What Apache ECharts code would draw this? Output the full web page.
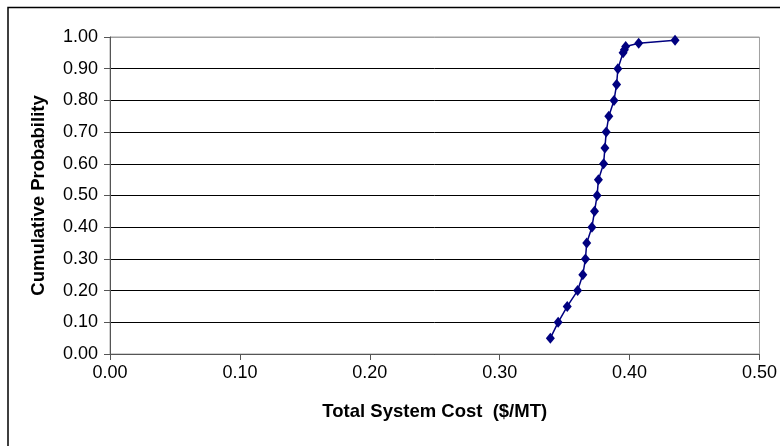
<!DOCTYPE html>
<html>
<head>
<meta charset="utf-8">
<script src="https://cdn.jsdelivr.net/npm/echarts@6/dist/echarts.min.js"></script>
<style>html,body{margin:0;padding:0;background:#fff}#c{width:780px;height:446px}</style>
</head>
<body>
<div id="c"></div>
<script>
var costValues = [0.339,0.345,0.352,0.360,0.364,0.366,0.367,0.371,0.373,0.375,0.376,0.380,0.381,0.382,0.384,0.388,0.390,0.391,0.395,0.396,0.397,0.407,0.435];
var probValues = [0.05,0.10,0.15,0.20,0.25,0.30,0.35,0.40,0.45,0.50,0.55,0.60,0.65,0.70,0.75,0.80,0.85,0.90,0.95,0.96,0.97,0.98,0.99];
var xTitle = 'Total System Cost  ($/MT)';
var yTitle = 'Cumulative Probability';

var points = costValues.map(function(v, i){ return [v, probValues[i]]; });
var splitColors = ['#000','#000','#000','#000','#000','#000','#000','#000','#000','#000','#a0a0a0'];

var chart = echarts.init(document.getElementById('c'), null, {renderer:'canvas'});
chart.setOption({
  animation: false,
  backgroundColor: '#fff',
  textStyle: {fontFamily: 'Liberation Sans, Arial, sans-serif'},
  graphic: [{
    type: 'rect', z: -10, silent: true,
    shape: {x: 8, y: 7.5, width: 800, height: 500},
    style: {fill: 'none', stroke: '#000', lineWidth: 1.5}
  }],
  grid: {left: 110, right: 19, top: 37, bottom: 92, show: true, borderColor: '#a0a0a0', borderWidth: 1, backgroundColor: '#fff'},
  xAxis: {
    type: 'value', min: 0, max: 0.5, interval: 0.1,
    name: xTitle, nameLocation: 'middle', nameGap: 48,
    nameTextStyle: {fontSize: 18.5, fontWeight: 'bold', color: '#000', fontFamily: 'Liberation Sans, Arial'},
    axisLine: {show: true, onZero: false, lineStyle: {color: '#555', width: 1}},
    axisTick: {show: true, inside: false, length: 6, lineStyle: {color: '#555'}},
    axisLabel: {fontSize: 18, color: '#000', margin: 10, formatter: function(v){ return v.toFixed(2); }},
    splitLine: {show: false}
  },
  yAxis: {
    type: 'value', min: 0, max: 1, interval: 0.1,
    name: yTitle, nameLocation: 'middle', nameGap: 62,
    nameTextStyle: {fontSize: 18.5, fontWeight: 'bold', color: '#000', fontFamily: 'Liberation Sans, Arial'},
    axisLine: {show: true, onZero: false, lineStyle: {color: '#555', width: 1}},
    axisTick: {show: true, inside: false, length: 6, lineStyle: {color: '#555'}},
    axisLabel: {fontSize: 18, color: '#000', margin: 12, formatter: function(v){ return v.toFixed(2); }},
    splitLine: {show: true, lineStyle: {color: splitColors, width: 1}}
  },
  series: [{
    type: 'line', data: points,
    symbol: 'diamond', symbolSize: [9, 11],
    lineStyle: {color: '#000080', width: 1.5},
    itemStyle: {color: '#000080'},
    clip: false
  }]
});
</script>
</body>
</html>
